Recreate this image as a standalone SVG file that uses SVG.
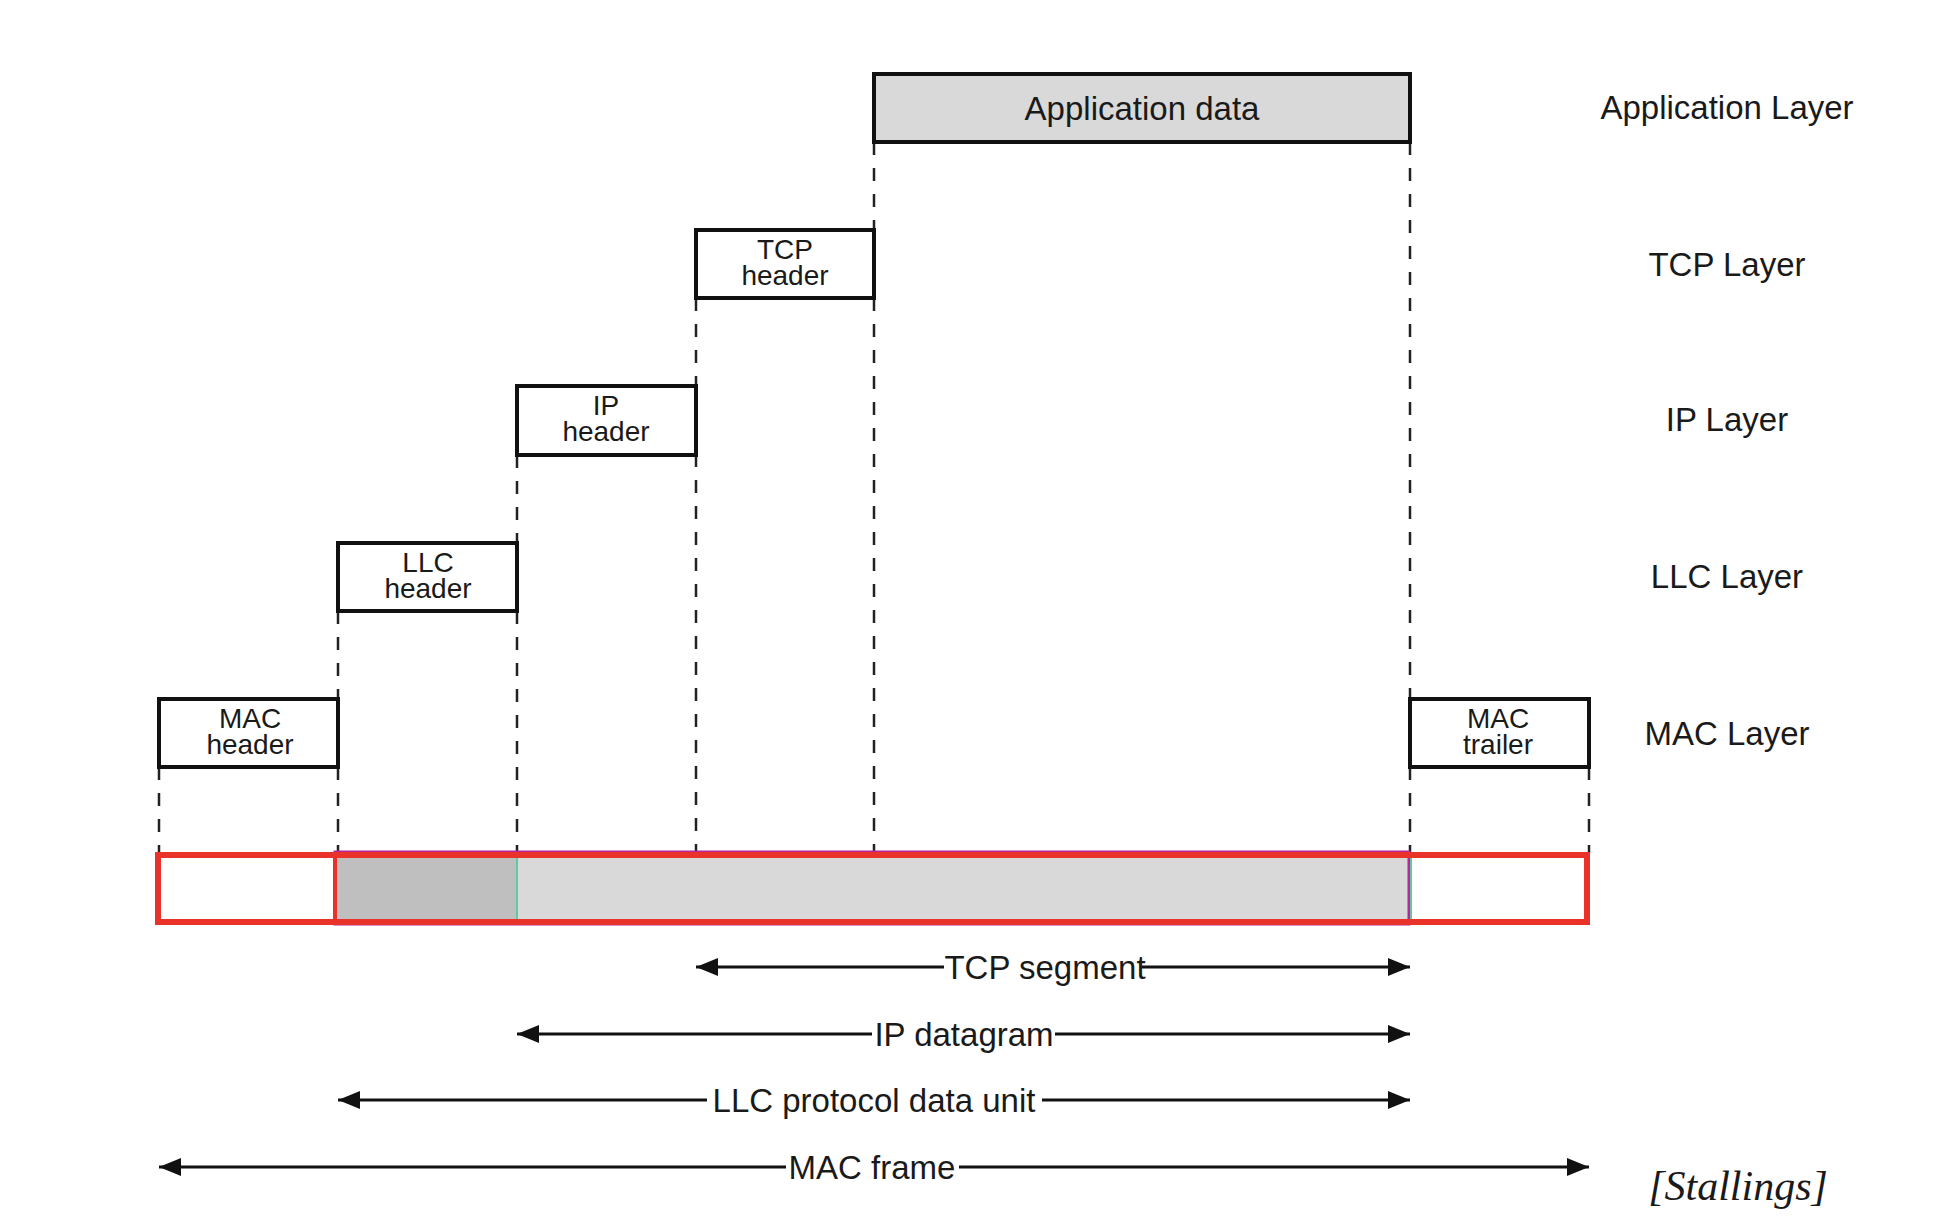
<svg xmlns="http://www.w3.org/2000/svg" width="1934" height="1222" viewBox="0 0 1934 1222">
<style>
.box{fill:#fff;stroke:#111;stroke-width:4}
.gbox{fill:#d9d9d9;stroke:#111;stroke-width:4}
.t{font-family:"Liberation Sans",Arial,sans-serif;fill:#1a1a1a;text-anchor:middle}
.bt{font-size:28px}
.lt{font-size:33px}
.dash{stroke:#222;stroke-width:2.5;stroke-dasharray:13 13;fill:none}
.arr{stroke:#111;stroke-width:3;fill:none}
.as{marker-start:url(#ah)}
.ae{marker-end:url(#ah)}
</style>
<defs>
<marker id="ah" markerUnits="userSpaceOnUse" markerWidth="24" markerHeight="20" refX="22" refY="9" orient="auto-start-reverse">
<path d="M0,0 L22,9 L0,18 z" fill="#111"/>
</marker>
</defs>
<rect width="1934" height="1222" fill="#fff"/>

<g id="connectors">
<line class="dash" x1="159" y1="767" x2="159" y2="853"/>
<line class="dash" x1="338" y1="611" x2="338" y2="853"/>
<line class="dash" x1="517" y1="455" x2="517" y2="853"/>
<line class="dash" x1="696" y1="298" x2="696" y2="853"/>
<line class="dash" x1="874" y1="142" x2="874" y2="853"/>
<line class="dash" x1="1410" y1="142" x2="1410" y2="699"/>
<line class="dash" x1="1410" y1="767" x2="1410" y2="853"/>
<line class="dash" x1="1589" y1="767" x2="1589" y2="853"/>

<line class="arr as" x1="696" y1="967" x2="944" y2="967"/>
<line class="arr ae" x1="1140" y1="967" x2="1410" y2="967"/>
<line class="arr as" x1="517" y1="1034" x2="872" y2="1034"/>
<line class="arr ae" x1="1055" y1="1034" x2="1410" y2="1034"/>
<line class="arr as" x1="338" y1="1100" x2="707" y2="1100"/>
<line class="arr ae" x1="1042" y1="1100" x2="1410" y2="1100"/>
<line class="arr as" x1="159" y1="1167" x2="786" y2="1167"/>
<line class="arr ae" x1="959" y1="1167" x2="1589" y2="1167"/>
</g>

<g id="app-data">
<rect class="gbox" x="874" y="74" width="536" height="68"/>
<text class="t lt" x="1142" y="120">Application data</text>
</g>
<g id="tcp-header">
<rect class="box" x="696" y="230" width="178" height="68"/>
<text class="t bt" x="785" y="259">TCP</text>
<text class="t bt" x="785" y="285">header</text>
</g>
<g id="ip-header">
<rect class="box" x="517" y="386" width="179" height="69"/>
<text class="t bt" x="606" y="415">IP</text>
<text class="t bt" x="606" y="441">header</text>
</g>
<g id="llc-header">
<rect class="box" x="338" y="543" width="179" height="68"/>
<text class="t bt" x="428" y="572">LLC</text>
<text class="t bt" x="428" y="598">header</text>
</g>
<g id="mac-header">
<rect class="box" x="159" y="699" width="179" height="68"/>
<text class="t bt" x="250" y="728">MAC</text>
<text class="t bt" x="250" y="754">header</text>
</g>
<g id="mac-trailer">
<rect class="box" x="1410" y="699" width="179" height="68"/>
<text class="t bt" x="1498" y="728">MAC</text>
<text class="t bt" x="1498" y="754">trailer</text>
</g>

<g id="frame">
<rect x="158" y="855" width="1429" height="67" fill="#fff"/>
<rect x="336" y="855" width="181" height="67" fill="#bfbfbf"/>
<rect x="517" y="855" width="893" height="67" fill="#d9d9d9"/>
<rect x="335" y="852" width="1074" height="72" fill="none" stroke="#b5279b" stroke-width="3"/>
<line x1="517" y1="857" x2="517" y2="920" stroke="#5fc9a0" stroke-width="2"/>
<line x1="1411" y1="857" x2="1411" y2="920" stroke="#5fc9a0" stroke-width="2"/>
<rect x="158" y="855" width="1429" height="67" fill="none" stroke="#e8322a" stroke-width="6"/>
<line x1="335" y1="855" x2="335" y2="922" stroke="#e8322a" stroke-width="4"/>
</g>

<g id="labels">
<text class="t lt" x="1045" y="979">TCP segment</text>
<text class="t lt" x="964" y="1046">IP datagram</text>
<text class="t lt" x="874" y="1112">LLC protocol data unit</text>
<text class="t lt" x="872" y="1179">MAC frame</text>
</g>

<g id="layers">
<text class="t lt" x="1727" y="119">Application Layer</text>
<text class="t lt" x="1727" y="276">TCP Layer</text>
<text class="t lt" x="1727" y="431">IP Layer</text>
<text class="t lt" x="1727" y="588">LLC Layer</text>
<text class="t lt" x="1727" y="745">MAC Layer</text>
</g>

<text x="1738" y="1200" font-family="'Liberation Serif','Times New Roman',serif" font-style="italic" font-size="42" fill="#1a1a1a" text-anchor="middle">[Stallings]</text>
</svg>
